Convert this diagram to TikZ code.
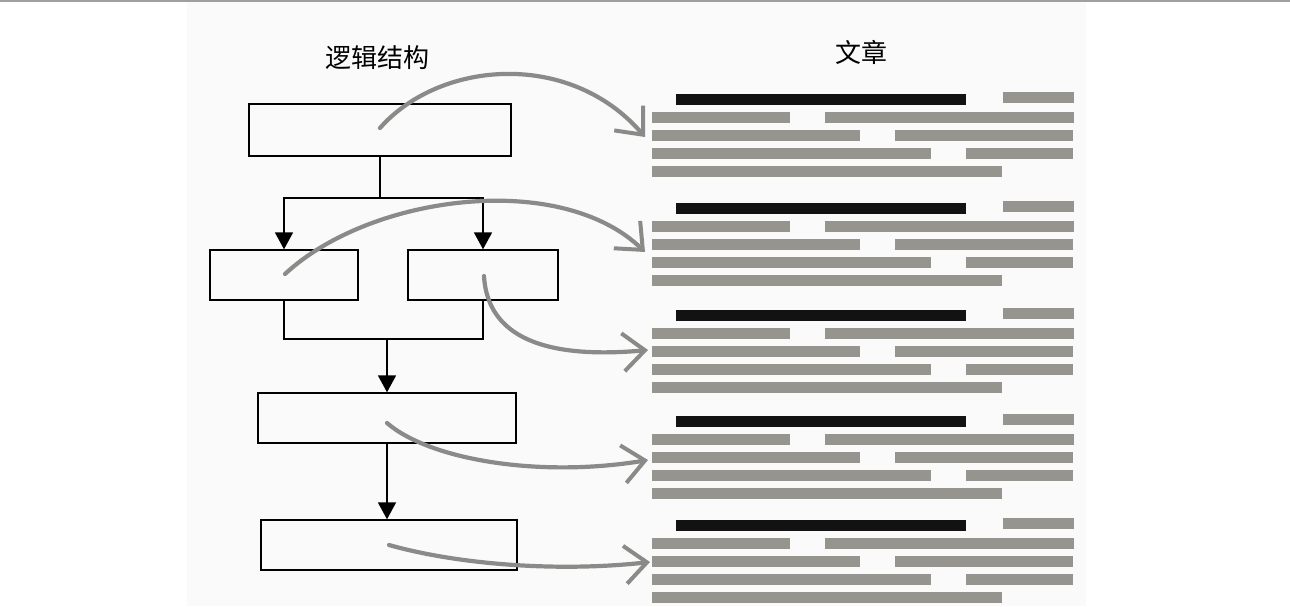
\documentclass[tikz,border=0pt]{standalone}
\usepackage{fontspec}
\newfontfamily\cjk{Noto Sans CJK SC}
\usetikzlibrary{arrows.meta}
\definecolor{bargray}{RGB}{150,148,142}
\definecolor{curvegray}{RGB}{138,138,136}
\begin{document}
\begin{tikzpicture}[x=1pt,y=-1pt,
  flowbox/.style={draw, line width=1.4pt, inner sep=0pt, rectangle},
  flowline/.style={line width=1.8pt},
  flowarr/.style={line width=1.8pt, -{Triangle[length=17pt,width=18pt]}},
  mapcurve/.style={draw=curvegray, line width=4.2pt, line cap=round,
    -{Straight Barb[length=22pt,width=38pt,line width=4pt]}},
  title/.style={font=\cjk\fontsize{26pt}{30pt}\selectfont, inner sep=0pt}
]
\useasboundingbox (0,0) rectangle (1290,606);
\fill[black!2] (187,0) rectangle (1086,606);
\draw[gray!75, line width=2pt] (0,1) -- (1290,1);

% titles
\node[title] (t1) at (377,58) {逻辑结构};
\node[title] (t2) at (861,52) {文章};

% boxes
\node[flowbox, minimum width=262pt, minimum height=52pt] (b1) at (380,130) {};
\node[flowbox, minimum width=148pt, minimum height=50pt] (b2) at (284,275) {};
\node[flowbox, minimum width=150pt, minimum height=50pt] (b3) at (483,275) {};
\node[flowbox, minimum width=258pt, minimum height=50pt] (b4) at (387,418) {};
\node[flowbox, minimum width=256pt, minimum height=50pt] (b5) at (389,545) {};

% connectors
\coordinate (j1) at (380,198);
\coordinate (j2) at (387,339);
\draw[flowline] (b1.south) -- (j1);
\draw[flowarr] (j1) -| (b2.north);
\draw[flowarr] (j1) -| (b3.north);
\draw[flowline] (b2.south) |- (j2) -| (b3.south);
\draw[flowarr] (j2) -- (b4.north);
\draw[flowarr] (b4.south) -- (b4.south |- b5.north);

% text blocks
\foreach \c in {99,208,315,421,525}{
  \fill[black!93] (676,\c-5.5) rectangle (966,\c+5.5);
  \fill[bargray] (1003,\c-7) rectangle (1074,\c+4);
  \fill[bargray] (652,\c+13) rectangle (790,\c+24);
  \fill[bargray] (825,\c+13) rectangle (1074,\c+24);
  \fill[bargray] (652,\c+31) rectangle (860,\c+42);
  \fill[bargray] (895,\c+31) rectangle (1073,\c+42);
  \fill[bargray] (652,\c+49) rectangle (931,\c+60);
  \fill[bargray] (966,\c+49) rectangle (1073,\c+60);
  \fill[bargray] (652,\c+67) rectangle (1002,\c+78);
}

% mapping curves
\coordinate (s1) at (380,128);
\coordinate (e1) at (645,137);
\coordinate (s2) at (285,274);
\coordinate (e2) at (645,252);
\coordinate (s3) at (484,276);
\coordinate (e3) at (648,350);
\coordinate (s4) at (387,423);
\coordinate (e4) at (648,460);
\coordinate (s5) at (389,545);
\coordinate (e5) at (650,562);
\draw[mapcurve] (s1) .. controls (440,60) and (570,50) .. (e1);
\draw[mapcurve] (s2) .. controls (370,195) and (560,170) .. (e2);
\draw[mapcurve] (s3) .. controls (488,345) and (560,358) .. (e3);
\draw[mapcurve] (s4) .. controls (430,460) and (540,478) .. (e4);
\draw[mapcurve] (s5) .. controls (460,565) and (560,572) .. (e5);
\end{tikzpicture}
\end{document}
